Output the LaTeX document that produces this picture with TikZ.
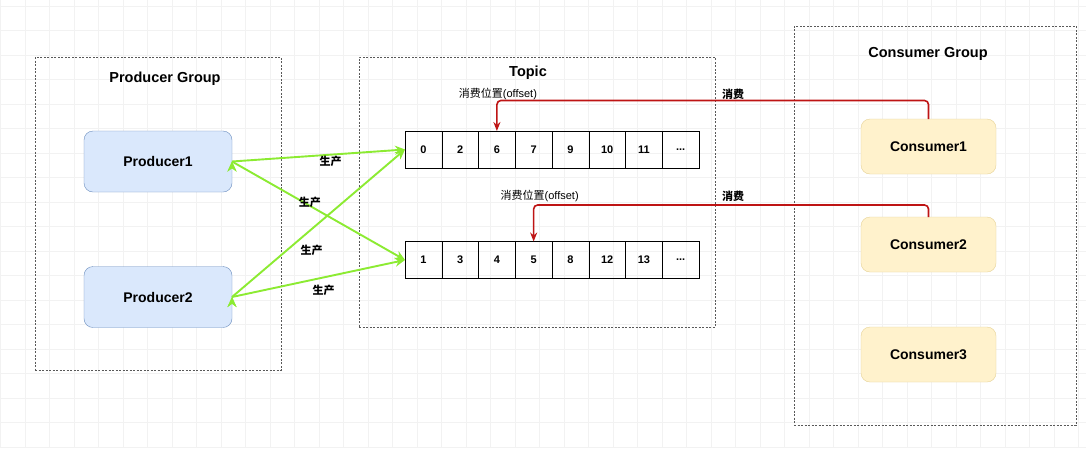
\documentclass[tikz,border=0pt]{standalone}
\usepackage{fontspec}
\setmainfont{Liberation Sans}
\newfontfamily\cjk{Noto Sans CJK SC}
\usetikzlibrary{positioning,arrows.meta}
\definecolor{prodfill}{RGB}{218,232,252}
\definecolor{prodline}{RGB}{108,142,191}
\definecolor{consfill}{RGB}{255,242,204}
\definecolor{consline}{RGB}{230,210,150}
\definecolor{prodgreen}{RGB}{140,235,50}
\definecolor{consred}{RGB}{190,20,20}

\begin{document}
\begin{tikzpicture}
[x=1pt,y=-1pt,
 every node/.style={inner sep=0pt,outer sep=0pt,font=\fontsize{14}{16}\selectfont\bfseries},
 group/.style={rectangle,draw=black!65,dash pattern=on 2pt off 1.5pt,thin},
 title/.style={font=\fontsize{14.5}{16}\selectfont\bfseries},
 prod/.style={rectangle,rounded corners=9pt,draw=prodline,fill=prodfill,minimum width=148pt,minimum height=61pt},
 cons/.style={rectangle,rounded corners=9pt,draw=consline,fill=consfill,minimum width=135pt,minimum height=55pt},
 cell/.style={rectangle,draw=black,thin,minimum width=36.75pt,minimum height=37pt,font=\fontsize{11}{13}\selectfont\bfseries},
 lbl/.style={font=\fontsize{11}{13}\selectfont\cjk\bfseries},
 offs/.style={font=\fontsize{11}{13}\selectfont},
 produce/.style={draw=prodgreen,line width=1.9pt,-{Stealth[length=10pt,width=9pt]}},
 consume/.style={draw=consred,line width=1.6pt,rounded corners=4pt,-{Stealth[length=9pt,width=7pt]}},
 gridline/.style={draw=black!5,line width=0.5pt}]
\fill[white] (0,0) rectangle (1086,448);
\useasboundingbox (0,0) rectangle (1086,448);
\foreach \gx in {0.5,25,...,1086} \draw[gridline] (\gx,0) -- (\gx,448);
\foreach \gy in {6,30.5,...,448} \draw[gridline] (0,\gy) -- (1086,\gy);

% groups
\node[group,minimum width=246pt,minimum height=313pt] (pg) at (158,213.5) {};
\node[title] (pgt) [on grid,above right=134.5pt and 7pt of pg] {Producer Group};
\node[group,minimum width=356pt,minimum height=270pt] (tp) at (537,192) {};
\node[title] (tpt) [on grid,above left=119pt and 9pt of tp] {Topic};
\node[group,minimum width=282pt,minimum height=399pt] (cg) at (935,225.5) {};
\node[title] (cgt) [on grid,above left=171.5pt and 7pt of cg] {Consumer Group};

\node[prod] (p1) at (158,161.5)                {Producer1};
\node[prod] (p2) [on grid,below=135.5pt of p1] {Producer2};

\node[cell] (a0) at (423.4,149.5)             {0};
\node[cell] (a1) [on grid,right=36.75pt of a0] {2};
\node[cell] (a2) [on grid,right=36.75pt of a1] {6};
\node[cell] (a3) [on grid,right=36.75pt of a2] {7};
\node[cell] (a4) [on grid,right=36.75pt of a3] {9};
\node[cell] (a5) [on grid,right=36.75pt of a4] {10};
\node[cell] (a6) [on grid,right=36.75pt of a5] {11};
\node[cell] (a7) [on grid,right=36.75pt of a6] {...};
\node[cell] (b0) [on grid,below=110.5pt of a0] {1};
\node[cell] (b1) [on grid,right=36.75pt of b0] {3};
\node[cell] (b2) [on grid,right=36.75pt of b1] {4};
\node[cell] (b3) [on grid,right=36.75pt of b2] {5};
\node[cell] (b4) [on grid,right=36.75pt of b3] {8};
\node[cell] (b5) [on grid,right=36.75pt of b4] {12};
\node[cell] (b6) [on grid,right=36.75pt of b5] {13};
\node[cell] (b7) [on grid,right=36.75pt of b6] {...};

\node[cons] (c1) at (928.5,146.5)            {Consumer1};
\node[cons] (c2) [on grid,below=98pt of c1]  {Consumer2};
\node[cons] (c3) [on grid,below=110pt of c2] {Consumer3};

\path[produce] (p1.east) edge node[lbl,pos=.57,yshift=-7pt]    (l1) {生产} (a0.west);
\path[produce] (p1.east) edge node[lbl,pos=.45,yshift=3.5pt]   (l2) {生产} (b0.west);
\path[produce] (p2.east) edge node[lbl,pos=.46,yshift=-21pt]   (l3) {生产} (a0.west);
\path[produce] (p2.east) edge node[lbl,pos=.53,yshift=-12.5pt] (l4) {生产} (b0.west);

\draw[consume] (c1.north) -- ++(0,-18.5) -| (a2.north);
\draw[consume] (c2.north) -- ++(0,-12) -| (b3.north);

\node[offs] (o1) [on grid,above right=55.5pt and 1pt of a2] {{\cjk 消费位置}(offset)};
\node[offs] (o2) [on grid,above right=64pt and 6pt of b3]   {{\cjk 消费位置}(offset)};
\node[lbl]  (k1) [on grid,above left=52.5pt and 195.5pt of c1] {消费};
\node[lbl]  (k2) [on grid,above left=48.5pt and 195.5pt of c2] {消费};
\end{tikzpicture}
\end{document}
